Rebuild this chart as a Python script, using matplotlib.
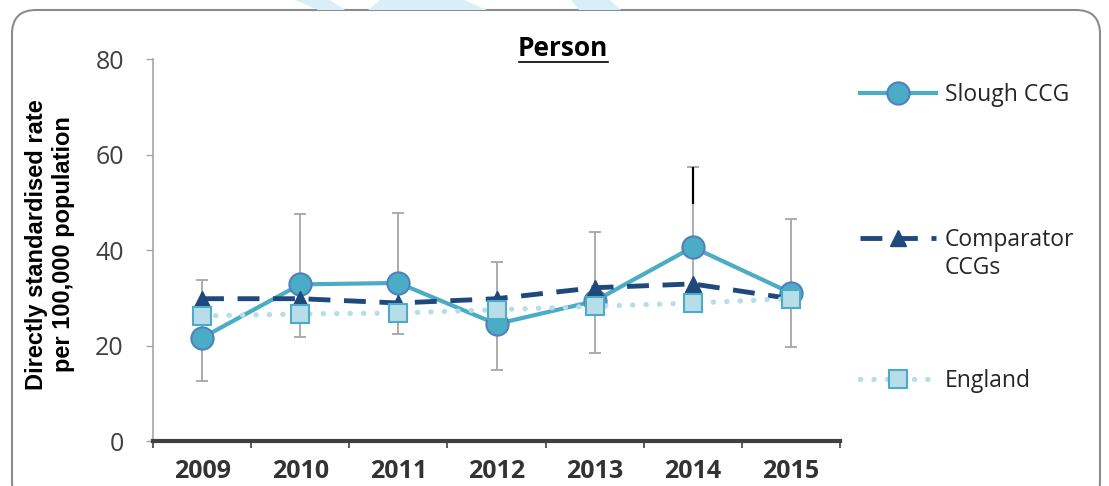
import numpy as np
import matplotlib
matplotlib.use("Agg")
import matplotlib.pyplot as plt
from matplotlib.patches import FancyBboxPatch, Polygon
from matplotlib.lines import Line2D
from matplotlib.transforms import IdentityTransform

years = ["2009", "2010", "2011", "2012", "2013", "2014", "2015"]
slough = [21.6, 32.8, 33.1, 24.5, 29.3, 40.6, 31.0]
slough_lower = [12.6, 21.8, 22.4, 14.9, 18.5, 29.0, 19.7]
slough_upper = [33.8, 47.6, 47.8, 37.4, 43.7, 57.3, 46.5]
# part of the 2014 whisker drawn in black in the source
dark_whisker_from = [np.nan, np.nan, np.nan, np.nan, np.nan, 49.7, np.nan]
comparator = [29.8, 29.8, 28.9, 29.8, 32.1, 32.9, 29.8]
england = [26.2, 26.6, 26.8, 27.5, 28.2, 28.9, 29.8]
yticks = [0, 20, 40, 60, 80]

slough_col = "#4BACC6"
slough_edge = "#4F81BD"
comp_col = "#1F497D"
eng_col = "#B7DEE8"

W, H = 1109, 486
fig = plt.figure(figsize=(W / 100, H / 100), dpi=100)

# rounded frame around the chart
frame = FancyBboxPatch((12, -20), 1088, H - 10 + 20,
                       boxstyle="round,pad=0,rounding_size=24",
                       transform=IdentityTransform(), fill=False,
                       edgecolor="#8C8C8C", linewidth=1.5)
fig.add_artist(frame)

# faint watermark shapes at the top edge
for pts in ([(295, 0), (330, 0), (345, 10), (318, 10)],
            [(380, 0), (464, 0), (487, 10), (368, 10)],
            [(571, 0), (610, 0), (621, 10), (579, 10)]):
    poly = Polygon([(x, H - y) for x, y in pts], closed=True,
                   transform=IdentityTransform(), facecolor="#D9EEF7",
                   edgecolor="none")
    fig.add_artist(poly)

ax = fig.add_axes([153 / W, 1 - 441 / H, (840 - 153) / W, (441 - 59) / H])
x = np.arange(len(years))

lower_err = np.array(slough) - np.array(slough_lower)
upper_err = np.array(slough_upper) - np.array(slough)
ax.errorbar(x, slough, yerr=[lower_err, upper_err], fmt="none",
            ecolor="#A6A6A6", elinewidth=1.3, capsize=4, capthick=1.3, zorder=2)
dark = ~np.isnan(dark_whisker_from)
ax.vlines(x[dark], np.array(dark_whisker_from)[dark],
          np.array(slough_upper)[dark], color="black", linewidth=1.6, zorder=2.5)

ax.plot(x, slough, color=slough_col, linewidth=3, marker="o", markersize=16,
        markerfacecolor=slough_col, markeredgecolor=slough_edge,
        markeredgewidth=1.5, zorder=3, label="Slough CCG")
ax.plot(x, comparator, color=comp_col, linewidth=3.5, dashes=(4.5, 2.8),
        marker="^", markersize=12, markerfacecolor=comp_col,
        markeredgecolor=comp_col, zorder=4, label="Comparator")
ax.plot(x, england, color=eng_col, linewidth=3.8, linestyle=(0, (0.05, 2.5)),
        dash_capstyle="round", marker="s", markersize=13,
        markerfacecolor=eng_col, markeredgecolor=slough_col,
        markeredgewidth=1.5, zorder=5, label="England")

ax.set_xlim(-0.5, len(years) - 0.5)
ax.set_ylim(0, 80)
ax.set_yticks(yticks)
ax.set_yticklabels([str(v) for v in yticks], fontsize=18, color="#404040",
                   family="Open Sans")
ax.tick_params(axis="y", length=5, width=1, color="#A6A6A6", pad=16)

ax.set_xticks(np.arange(len(years) + 1) - 0.5)
ax.set_xticklabels([])
ax.set_xticks(x, minor=True)
ax.set_xticklabels(years, minor=True, fontsize=18, fontweight="bold",
                   color="#333333", family="Open Sans")
ax.tick_params(axis="x", which="major", length=5, width=1.2, color="#404040",
               direction="out")
ax.tick_params(axis="x", which="minor", length=0, pad=13)

for side in ("top", "right"):
    ax.spines[side].set_visible(False)
ax.spines["left"].set_color("#A6A6A6")
ax.spines["left"].set_linewidth(1.2)
ax.spines["bottom"].set_color("#404040")
ax.spines["bottom"].set_linewidth(3)
ax.patch.set_alpha(0)

ax.set_ylabel("Directly standardised rate\nper 100,000 population",
              fontsize=17, fontweight="bold", linespacing=1.22,
              family=["Liberation Sans Narrow", "Liberation Sans"])
ax.yaxis.set_label_coords(-0.113, 0.515)

# title with underline
fig.text(563 / W, 1 - 48 / H, "Person", fontsize=19, fontweight="bold",
         family="Open Sans", ha="center", va="center")
fig.add_artist(Line2D([519 / W, 608 / W], [1 - 62 / H, 1 - 62 / H],
                      color="black", linewidth=1.2))

# legend entries spaced down the right side
handles, labels = ax.get_legend_handles_labels()
legend_y = [95, 240, 381]
for h, lab, yy in zip(handles, labels, legend_y):
    leg = fig.legend([h], [lab], loc="center left",
                     bbox_to_anchor=(860 / W, 1 - yy / H), frameon=False,
                     handlelength=3.3, handletextpad=0.4, borderpad=0,
                     borderaxespad=0, prop={"family": "Open Sans", "size": 16.5})
    for t in leg.get_texts():
        t.set_color("#262626")
# second line of the comparator label
fig.text(945 / W, 1 - 268 / H, "CCGs", fontsize=16.5, family="Open Sans",
         color="#262626", ha="left", va="center")

fig.savefig("out.png", dpi=100)
